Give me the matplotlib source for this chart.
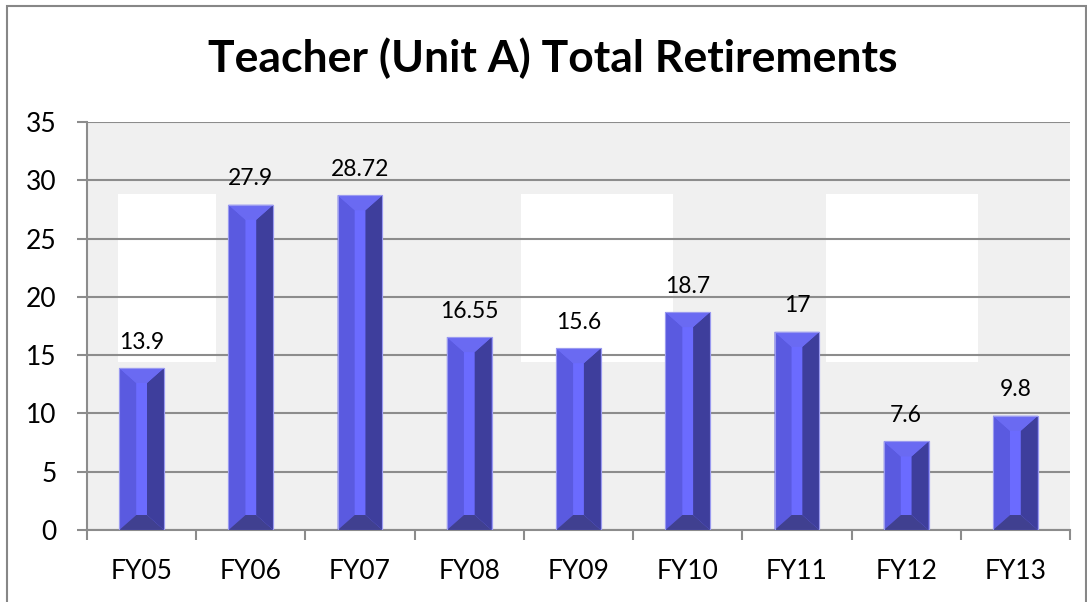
import matplotlib
matplotlib.use("Agg")
import matplotlib.pyplot as plt
from matplotlib.patches import Polygon, Rectangle
import numpy as np

categories = ["FY05", "FY06", "FY07", "FY08", "FY09", "FY10", "FY11", "FY12", "FY13"]
values = [13.9, 27.9, 28.72, 16.55, 15.6, 18.7, 17, 7.6, 9.8]
labels = ["13.9", "27.9", "28.72", "16.55", "15.6", "18.7", "17", "7.6", "9.8"]
title = "Teacher (Unit A) Total Retirements"
yticks = [0, 5, 10, 15, 20, 25, 30, 35]

FONT = ["Lato", "DejaVu Sans"]
plt.rcParams["font.family"] = FONT

W, H = 1087, 602
fig = plt.figure(figsize=(W / 100, H / 100), dpi=100)
fig.patch.set_facecolor("white")

# chart border
fig.patches.append(Rectangle((7 / W, -0.05), (1086 - 7) / W, 1.05 - 6 / H,
                             transform=fig.transFigure, fill=False,
                             edgecolor="#878787", linewidth=1.5, zorder=0))

L, R, T, B = 87, 1070, 122, 530
ax = fig.add_axes([L / W, 1 - B / H, (R - L) / W, (B - T) / H])
ax.set_facecolor("#f0f0f0")
n = len(categories)
ax.set_xlim(-0.5, n - 0.5)
ax.set_ylim(0, 35)

# white background artifacts
for x0, x1 in [(-0.216, 0.681), (3.474, 4.866), (6.267, 7.659)]:
    ax.add_patch(Rectangle((x0, 14.41), x1 - x0, 28.82 - 14.41,
                           facecolor="white", edgecolor="none", zorder=0.5))

ax.set_yticks(yticks)
ax.yaxis.grid(True, color="#8c8c8c", linewidth=1.5, zorder=1)
ax.set_axisbelow(True)
for s in ["top", "right"]:
    ax.spines[s].set_visible(False)
for s in ["left", "bottom"]:
    ax.spines[s].set_color("#8c8c8c")
    ax.spines[s].set_linewidth(1.5)

ax.set_xticks(range(n))
ax.set_xticklabels(categories)
ax.set_xticks(np.arange(-0.5, n, 1.0), minor=True)
ax.tick_params(axis="x", which="major", length=0, pad=21, labelsize=19)
ax.tick_params(axis="x", which="minor", length=7, width=1.5, color="#8c8c8c")
ax.tick_params(axis="y", length=7, width=1.5, color="#8c8c8c", pad=15, labelsize=19)

width = 0.41
bars = ax.bar(range(n), values, width=width, color="#6b6bff",
              edgecolor="#9a9af0", linewidth=0.8, zorder=3)

# bevel facets in data units derived from pixel sizes
px_x = (n) / (R - L)
px_y = 35 / (B - T)
bx = 17 * px_x
by = 15 * px_y
for rect in bars:
    x0 = rect.get_x()
    x1 = x0 + rect.get_width()
    h = rect.get_height()
    bl = min(by, h / 2)
    faces = [
        ([(x0, 0), (x0 + bx, bl), (x0 + bx, h - bl), (x0, h)], "#5a5ae0"),
        ([(x1, 0), (x1 - bx, bl), (x1 - bx, h - bl), (x1, h)], "#3e3e9c"),
        ([(x0, h), (x1, h), (x1 - bx, h - bl), (x0 + bx, h - bl)], "#6a6af2"),
        ([(x0, 0), (x1, 0), (x1 - bx, bl), (x0 + bx, bl)], "#404090"),
    ]
    for pts, c in faces:
        ax.add_patch(Polygon(pts, closed=True, facecolor=c, edgecolor="none", zorder=3.5))
    ax.add_patch(Rectangle((x0, 0), x1 - x0, h, fill=False, edgecolor="#9a9af0",
                           linewidth=0.8, zorder=3.6))

for i, (v, lab) in enumerate(zip(values, labels)):
    ax.annotate(lab, (i, v), xytext=(0, 14), textcoords="offset points",
                ha="center", va="baseline", fontsize=16.5, color="black", zorder=5)

fig.text(553 / W, 1 - 58 / H, title, ha="center", va="center",
         fontsize=32, fontweight="bold", color="black")

fig.savefig("out.png", dpi=100, facecolor="white")
